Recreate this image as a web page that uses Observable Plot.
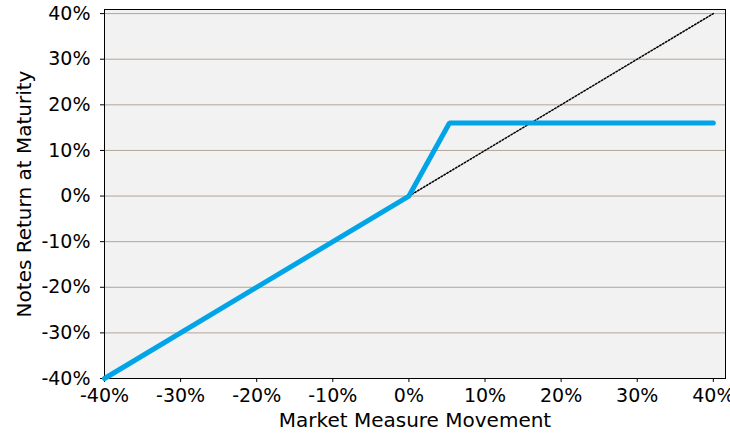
<!DOCTYPE html>
<html>
<head>
<meta charset="utf-8">
<script src="https://cdn.jsdelivr.net/npm/d3@7"></script>
<script src="https://cdn.jsdelivr.net/npm/@observablehq/plot@0.6"></script>
<style>
  html, body { margin: 0; padding: 0; background: #ffffff; }
  svg { display: block; }
  svg g[aria-label="x-axis label"] text, svg g[aria-label="y-axis label"] text { font-size: 20px; }
</style>
</head>
<body>
<div id="chart"></div>
<script>
// Payoff curve (market move %, note return %)
const marketMove = [-40, 0, 5.33, 40];
const noteReturn = [-40, 0, 16, 16];
// Reference 1:1 line
const refMove = [0, 40];
const refReturn = [0, 40];
const tickValues = [-40, -30, -20, -10, 0, 10, 20, 30, 40];

const payoff = marketMove.map((x, i) => ({x, y: noteReturn[i]}));
const ref = refMove.map((x, i) => ({x, y: refReturn[i]}));
const fmt = d => `${d}%`;

const chart = Plot.plot({
  width: 730,
  height: 440,
  marginLeft: 104,
  marginRight: 5,
  marginTop: 9,
  marginBottom: 62,
  style: {fontFamily: "DejaVu Sans", fontSize: "19px", color: "#000", background: "#fff"},
  x: {domain: [-40, 41.6], ticks: tickValues, tickFormat: fmt, label: "Market Measure Movement", labelAnchor: "center", labelArrow: "none", tickSize: 4, tickPadding: 6, labelOffset: 48},
  y: {domain: [-40, 40.9], ticks: tickValues, tickFormat: fmt, label: "Notes Return at Maturity", labelAnchor: "center", labelArrow: "none", tickSize: 4, tickPadding: 10, labelOffset: 88},
  marks: [
    Plot.frame({fill: "#f2f2f2", stroke: null}),
    Plot.ruleY(tickValues, {stroke: "#b3a596", strokeWidth: 1}),
    Plot.frame({stroke: "#000", strokeWidth: 1}),
    Plot.line(ref, {x: "x", y: "y", stroke: "#000", strokeWidth: 1.5, strokeDasharray: "1.6,1.8"}),
    Plot.line(payoff, {x: "x", y: "y", stroke: "#00a5e8", strokeWidth: 5, strokeLinejoin: "miter"})
  ]
});
document.getElementById("chart").appendChild(chart);
</script>
</body>
</html>
